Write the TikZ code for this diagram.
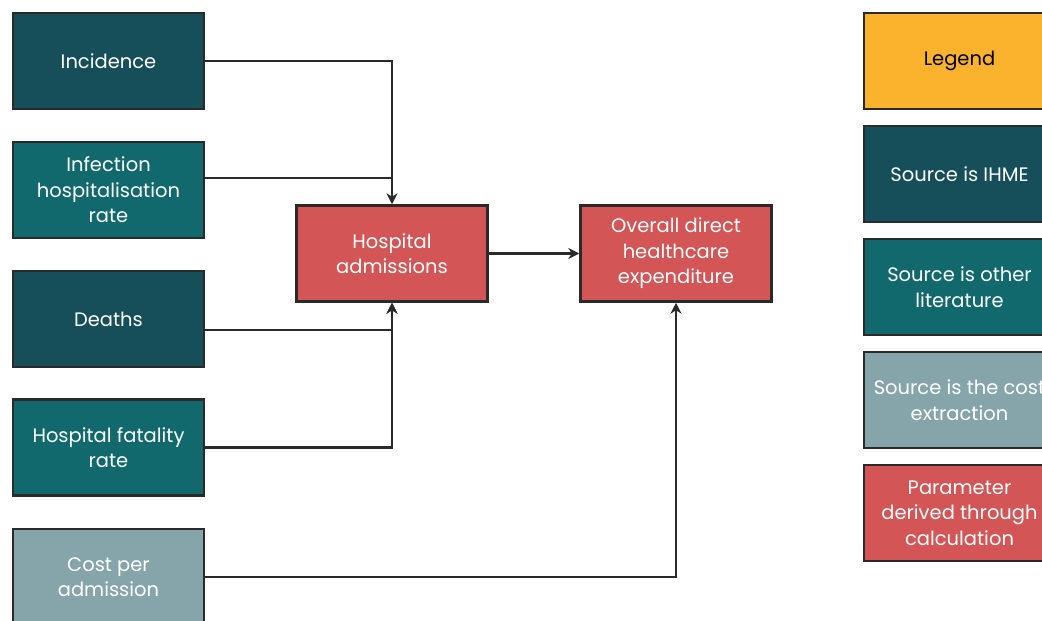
\documentclass[tikz,border=0pt]{standalone}
\usepackage{fontspec}
\setmainfont{Poppins}
\usepackage{xcolor}
\usepackage{tikz}
\usetikzlibrary{arrows.meta, positioning}

\definecolor{ihme}{HTML}{164E5A}
\definecolor{lit}{HTML}{11696E}
\definecolor{costx}{HTML}{86A5AB}
\definecolor{calc}{HTML}{D45555}
\definecolor{legend}{HTML}{FBB32E}
\definecolor{edge}{HTML}{2A2A2A}

\tikzset{
  box/.style={draw=edge, line width=2.5pt, minimum width=191pt, minimum height=96pt,
    inner sep=0pt, align=center, text=white,
    font=\fontsize{19.5}{25.5}\selectfont},
  link/.style={draw=edge, line width=2.5pt},
}

\begin{document}
\begin{tikzpicture}[x=1pt, y=-1pt, >={Stealth[length=11pt,width=11pt]}]
  \useasboundingbox (0,0) rectangle (1042,621);
  \clip (0,0) rectangle (1042,621);
  % inputs
  \node[box, fill=ihme] (inc) at (108.5,61) {Incidence};
  \node[box, fill=lit] (inf) at (108.5,190) {Infection\\hospitalisation\\rate};
  \node[box, fill=ihme] (dea) at (108.5,319) {Deaths};
  \node[box, fill=lit] (fat) at (108.5,447.5) {Hospital fatality\\rate};
  \node[box, fill=costx] (cost) at (108.5,577) {Cost per\\admission};
  % derived
  \node[box, fill=calc] (hosp) at (392,253.5) {Hospital\\admissions};
  \node[box, fill=calc] (ovr) at (676,253.5) {Overall direct\\healthcare\\expenditure};
  % legend
  \node[box, fill=legend, text=black] (leg) at (959.5,61) {Legend};
  \node[box, fill=ihme] (legA) at (959.5,174) {Source is IHME};
  \node[box, fill=lit] (legB) at (959.5,287) {Source is other\\literature};
  \node[box, fill=costx] (legC) at (959.5,400) {Source is the cost\\extraction};
  \node[box, fill=calc] (legD) at (959.5,513) {Parameter\\derived through\\calculation};
  % connectors
  \draw[link, ->] (inc.east) -| (hosp.north);
  \draw[link] ([yshift=12pt]inf.east) -- ([yshift=12pt]inf.east -| hosp.north);
  \draw[link, ->] ([yshift=-11pt]dea.east) -| (hosp.south);
  \draw[link, ->] (fat.east) -| (hosp.south);
  \draw[link, ->] (hosp) -- (ovr);
  \draw[link, ->] (cost.east) -| (ovr.south);
\end{tikzpicture}
\end{document}
